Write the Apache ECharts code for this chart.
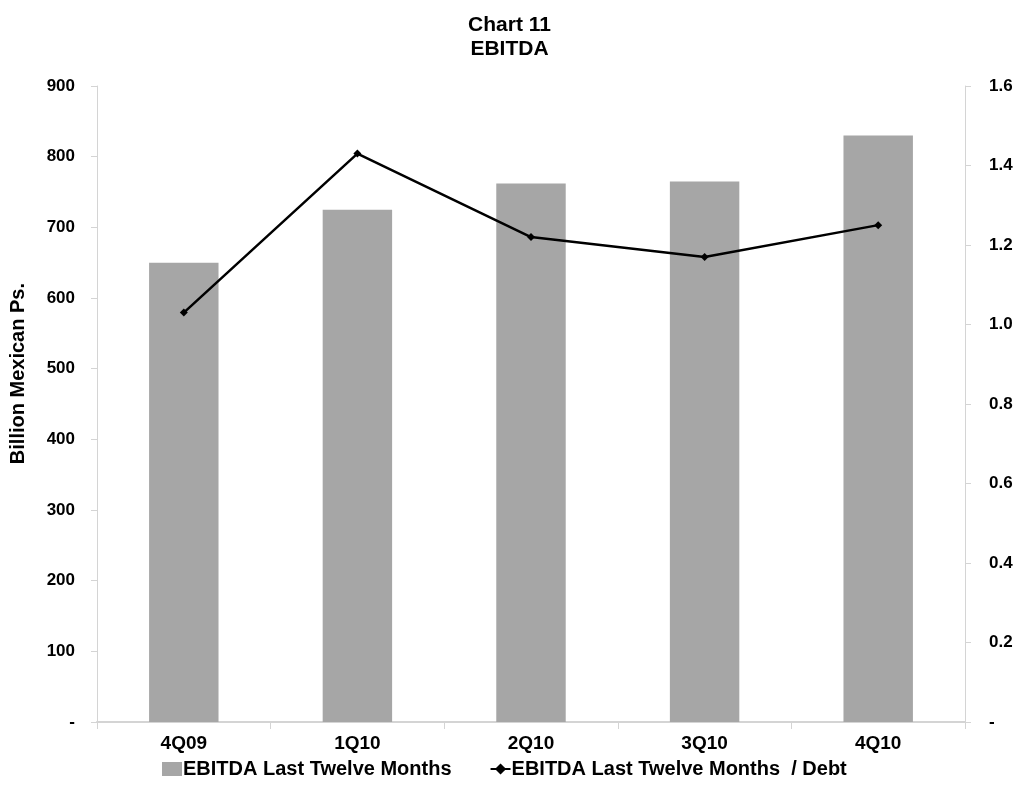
<!DOCTYPE html>
<html>
<head>
<meta charset="utf-8">
<script src="https://cdn.jsdelivr.net/npm/echarts@6/dist/echarts.min.js"></script>
<style>
  html, body { margin: 0; padding: 0; background: #fff; }
  #chart { width: 1019px; height: 793px; }
</style>
</head>
<body>
<div id="chart"></div>
<script>
// Quarterly EBITDA (last twelve months) and EBITDA / Debt ratio
const quarters = ['4Q09', '1Q10', '2Q10', '3Q10', '4Q10'];
const ebitdaLTM = [650, 725, 762, 765, 830];          // billion Mexican pesos
const ebitdaToDebt = [1.03, 1.43, 1.22, 1.17, 1.25];  // ratio
const leftTicks = [0, 100, 200, 300, 400, 500, 600, 700, 800, 900];
const rightTicks = [0, 0.2, 0.4, 0.6, 0.8, 1.0, 1.2, 1.4, 1.6];

const font = '"Liberation Sans", Arial, sans-serif';
const axisGray = '#d4d4d4';

const chart = echarts.init(document.getElementById('chart'), null, { renderer: 'canvas' });

chart.setOption({
  backgroundColor: '#ffffff',
  animation: false,
  title: {
    text: 'Chart 11\nEBITDA',
    left: 'center',
    top: 8,
    textStyle: { fontFamily: font, fontWeight: 'bold', fontSize: 21, lineHeight: 24, color: '#000' }
  },
  grid: { left: 97, right: 54, top: 86, bottom: 71 },
  legend: {
    bottom: 9,
    left: 157,
    itemGap: 38,
    itemWidth: 20,
    itemHeight: 14,
    textStyle: { fontFamily: font, fontWeight: 'bold', fontSize: 20, color: '#000', padding: [0, 0, 0, -4] },
    data: [
      { name: 'EBITDA Last Twelve Months', icon: 'rect' },
      { name: 'EBITDA Last Twelve Months  / Debt' }
    ]
  },
  graphic: [{
    type: 'text',
    left: 8,
    top: 283,
    rotation: Math.PI / 2,
    style: {
      text: 'Billion Mexican Ps.',
      font: 'bold 20px ' + font,
      fill: '#000'
    }
  }],
  xAxis: {
    type: 'category',
    data: quarters,
    axisLine: { lineStyle: { color: axisGray, width: 2 } },
    axisTick: { show: true, length: 7, lineStyle: { color: axisGray } },
    axisLabel: { fontFamily: font, fontWeight: 'bold', fontSize: 19, color: '#000', margin: 12 }
  },
  yAxis: [{
    type: 'value',
    min: 0,
    max: 900,
    interval: 100,
    position: 'left',
    axisLine: { show: true, lineStyle: { color: axisGray } },
    axisTick: { show: true, length: 6, lineStyle: { color: axisGray } },
    splitLine: { show: false },
    axisLabel: {
      fontFamily: font, fontWeight: 'bold', fontSize: 17, color: '#000', margin: 22,
      formatter: v => leftTicks.includes(v) ? (v === 0 ? '-' : String(v)) : ''
    }
  }, {
    type: 'value',
    min: 0,
    max: 1.6,
    interval: 0.2,
    position: 'right',
    axisLine: { show: true, lineStyle: { color: axisGray } },
    axisTick: { show: true, length: 6, lineStyle: { color: axisGray } },
    splitLine: { show: false },
    axisLabel: {
      fontFamily: font, fontWeight: 'bold', fontSize: 17, color: '#000', margin: 24,
      formatter: v => {
        const t = rightTicks.find(r => Math.abs(r - v) < 1e-6);
        if (t === undefined) return '';
        return t === 0 ? '-' : t.toFixed(1);
      }
    }
  }],
  series: [{
    name: 'EBITDA Last Twelve Months',
    type: 'bar',
    yAxisIndex: 0,
    data: ebitdaLTM,
    barWidth: '40%',
    itemStyle: { color: '#a6a6a6' }
  }, {
    name: 'EBITDA Last Twelve Months  / Debt',
    type: 'line',
    yAxisIndex: 1,
    data: ebitdaToDebt,
    symbol: 'diamond',
    symbolSize: 8,
    lineStyle: { color: '#000', width: 2.5 },
    itemStyle: { color: '#000' }
  }]
});
</script>
</body>
</html>
